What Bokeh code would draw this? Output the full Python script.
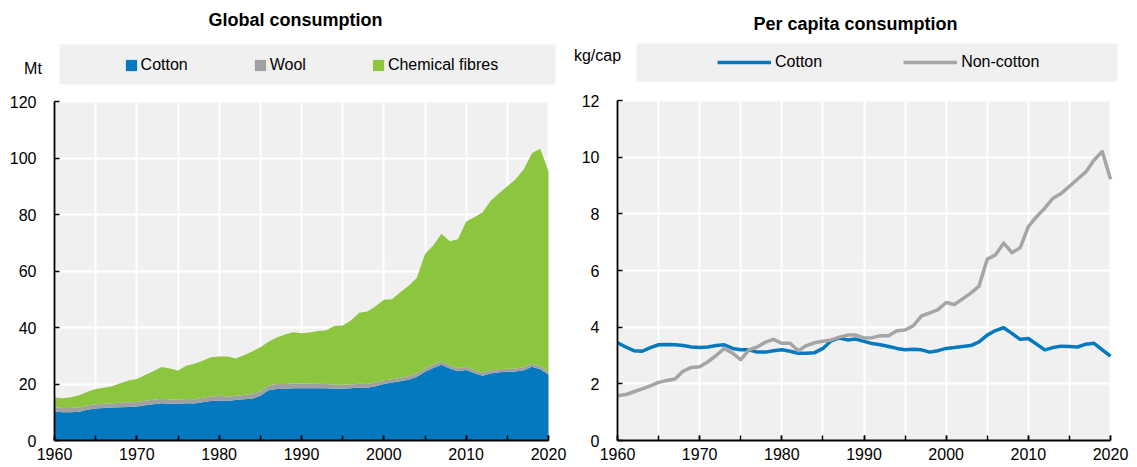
from bokeh.plotting import figure
from bokeh.layouts import row
from bokeh.models import (ColumnDataSource, Legend, LegendItem, Label, BoxAnnotation,
                          FixedTicker, SingleIntervalTicker, Range1d, Grid)
from bokeh.embed import file_html
from bokeh.resources import INLINE

FONT = "Liberation Sans"

years = list(range(1960, 2021))

# Global consumption, Mt (stacked)
cotton_mt = [10.3, 10.0, 10.0, 10.2, 10.9, 11.3, 11.5, 11.7, 11.8, 11.9,
             12.0, 12.5, 12.8, 13.2, 13.0, 13.0, 13.2, 13.1, 13.5, 14.0,
             14.2, 14.0, 14.3, 14.6, 14.8, 15.8, 17.8, 18.2, 18.2, 18.5,
             18.5, 18.5, 18.5, 18.5, 18.3, 18.3, 18.5, 18.8, 18.7, 19.2,
             20.0, 20.5, 21.0, 21.5, 22.5, 24.3, 25.7, 26.8, 25.5, 24.5,
             25.0, 23.8, 22.9, 23.7, 24.2, 24.3, 24.4, 24.9, 26.1, 25.2,
             23.3]
wool_mt = [1.5, 1.5, 1.5, 1.5, 1.5, 1.5, 1.5, 1.5, 1.6, 1.6,
           1.6, 1.6, 1.6, 1.6, 1.5, 1.5, 1.5, 1.5, 1.6, 1.6,
           1.6, 1.6, 1.5, 1.5, 1.6, 1.6, 1.7, 1.8, 1.8, 1.8,
           1.7, 1.6, 1.6, 1.5, 1.4, 1.4, 1.3, 1.3, 1.3, 1.3,
           1.3, 1.2, 1.2, 1.2, 1.2, 1.2, 1.2, 1.2, 1.1, 1.1,
           1.1, 1.1, 1.1, 1.1, 1.1, 1.1, 1.1, 1.1, 1.1, 1.1,
           1.0]
chemical_mt = [3.4, 3.5, 3.8, 4.3, 4.9, 5.4, 5.7, 6.0, 6.9, 7.7,
               8.2, 9.1, 10.1, 11.2, 11.0, 10.3, 11.8, 12.6, 13.1, 13.9,
               13.9, 14.1, 13.2, 14.1, 15.1, 15.6, 15.5, 16.5, 17.5, 18.0,
               17.8, 18.1, 18.7, 19.0, 20.8, 21.0, 22.7, 25.1, 25.7, 27.0,
               28.5, 28.3, 30.3, 32.1, 33.8, 40.5, 42.1, 45.2, 43.9, 45.6,
               51.4, 54.1, 56.8, 60.2, 62.2, 64.6, 67.0, 70.0, 74.6, 77.0,
               70.9]

# Per capita consumption, kg/cap
cotton_pc = [3.45, 3.30, 3.17, 3.15, 3.28, 3.38, 3.39, 3.38, 3.35, 3.30,
             3.28, 3.30, 3.35, 3.38, 3.25, 3.20, 3.20, 3.12, 3.12, 3.17,
             3.20, 3.15, 3.08, 3.08, 3.10, 3.25, 3.52, 3.62, 3.55, 3.58,
             3.50, 3.42, 3.38, 3.32, 3.25, 3.20, 3.22, 3.20, 3.12, 3.17,
             3.25, 3.28, 3.32, 3.35, 3.48, 3.72, 3.88, 3.98, 3.78, 3.57,
             3.60, 3.40, 3.20, 3.28, 3.33, 3.32, 3.30, 3.40, 3.43, 3.20,
             2.98]
noncotton_pc = [1.58, 1.62, 1.72, 1.82, 1.93, 2.05, 2.12, 2.17, 2.45, 2.58,
                2.60, 2.78, 3.00, 3.25, 3.08, 2.85, 3.20, 3.30, 3.47, 3.57,
                3.43, 3.43, 3.17, 3.35, 3.45, 3.50, 3.55, 3.65, 3.72, 3.72,
                3.62, 3.63, 3.70, 3.70, 3.87, 3.90, 4.05, 4.40, 4.50, 4.62,
                4.87, 4.80, 5.00, 5.20, 5.45, 6.40, 6.55, 6.97, 6.63, 6.80,
                7.55, 7.90, 8.20, 8.55, 8.72, 8.97, 9.23, 9.48, 9.90, 10.20,
                9.22]

stack_names = ["Cotton", "Wool", "Chemical fibres"]
line_names = ["Cotton", "Non-cotton"]
left_title = "Global consumption"
right_title = "Per capita consumption"
left_unit = "Mt"
right_unit = "kg/cap"
y_ticks_left = [0, 20, 40, 60, 80, 100, 120]
y_ticks_right = [0, 2, 4, 6, 8, 10, 12]

BLUE = "#0579bf"
GREY_AREA = "#a0a0a0"
GREEN = "#8cc63f"
GREY_LINE = "#a5a5a5"
BG = "#f0f0f0"

# ---- layout (pixels) ----
FB = 465            # frame height = canvas height
AXIS_Y = 440        # pixel row of the x axis (value 0)
X0, X1 = 1960, 2020


def make_fig(width, px_left, px_right, y_top_val, px_top):
    """Frame covers the whole canvas; data area mapped to given pixels."""
    kx = (px_right - px_left) / (X1 - X0)
    xr = Range1d(X0 - px_left / kx, X1 + (width - px_right) / kx)
    ky = (AXIS_Y - px_top) / y_top_val
    yr = Range1d(-(FB - AXIS_Y) / ky, AXIS_Y / ky)
    p = figure(frame_width=width, frame_height=FB, x_range=xr, y_range=yr,
               output_backend="svg", toolbar_location=None,
               min_border_left=0, min_border_right=0, min_border_top=0, min_border_bottom=0)
    p.background_fill_color = "white"
    p.border_fill_color = "white"
    p.outline_line_color = None
    p.grid.visible = False
    # grey plotting area
    p.add_layout(BoxAnnotation(left=X0, right=X1, bottom=0, top=y_top_val,
                               fill_color=BG, fill_alpha=1.0, line_color=None, level="underlay"))
    return p


def style(p, yticks, ytop):
    xa = p.xaxis[0]
    xa.ticker = SingleIntervalTicker(interval=10, num_minor_ticks=2)
    xa.bounds = (X0, X1)
    xa.fixed_location = 0
    ya = p.yaxis[0]
    ya.ticker = FixedTicker(ticks=yticks)
    ya.bounds = (0, ytop)
    ya.fixed_location = X0
    for ax in (xa, ya):
        ax.axis_line_color = "black"
        ax.axis_line_width = 1.8
        ax.major_tick_line_color = "black"
        ax.major_tick_line_width = 1.5
        ax.major_tick_in = 5
        ax.major_tick_out = 0
        ax.minor_tick_line_color = "black"
        ax.minor_tick_line_width = 1.5
        ax.minor_tick_in = 5
        ax.minor_tick_out = 0
        ax.major_label_text_font = FONT
        ax.major_label_text_font_size = "16px"
        ax.major_label_text_color = "black"
    xa.major_label_standoff = 7
    ya.major_label_standoff = 18
    p.add_layout(Grid(dimension=0, ticker=SingleIntervalTicker(interval=5),
                      bounds=(X0, X1), cross_bounds=(0, ytop),
                      grid_line_color="white", grid_line_width=2))
    p.add_layout(Grid(dimension=1, ticker=FixedTicker(ticks=yticks),
                      bounds=(0, ytop), cross_bounds=(X0, X1),
                      grid_line_color="white", grid_line_width=2))


def header(p, title, tx, ty, unit, ux, uy, box):
    l, r, t, b = box
    p.add_layout(BoxAnnotation(left=l, right=r, top=FB - t, bottom=FB - b,
                               left_units="screen", right_units="screen",
                               top_units="screen", bottom_units="screen",
                               fill_color=BG, fill_alpha=1.0, line_color=None))
    p.add_layout(Label(x=tx, y=FB - ty, x_units="screen", y_units="screen", text=title,
                       text_font=FONT, text_font_size="18px", text_font_style="bold",
                       text_align="center", text_baseline="middle", text_color="black"))
    p.add_layout(Label(x=ux, y=FB - uy, x_units="screen", y_units="screen", text=unit,
                       text_font=FONT, text_font_size="16px",
                       text_align="center", text_baseline="middle", text_color="black"))


# ---------- Left: global consumption ----------
src = ColumnDataSource(dict(year=years, cotton=cotton_mt, wool=wool_mt, chemical=chemical_mt))
p1 = make_fig(568, 54, 548, 120, 101)
style(p1, y_ticks_left, 120)
areas = p1.varea_stack(stackers=["cotton", "wool", "chemical"], x="year", source=src,
                       color=[BLUE, GREY_AREA, GREEN])
header(p1, left_title, 295, 19, left_unit, 32.5, 68, (59, 555, 44, 84))
leg1 = Legend(items=[LegendItem(label=n, renderers=[r]) for n, r in zip(stack_names, areas)],
              location=(123.6, FB - 74), orientation="horizontal",
              glyph_width=14, glyph_height=14, label_height=14, label_standoff=3, spacing=65,
              padding=0, margin=0, background_fill_alpha=0, border_line_color=None,
              label_text_font=FONT, label_text_font_size="16px", label_text_color="black")
p1.add_layout(leg1)

# ---------- Right: per capita consumption ----------
p2 = make_fig(567, 49, 542, 12, 100)
style(p2, y_ticks_right, 12)
r_cot = p2.line(years, cotton_pc, line_width=3.5, color=BLUE, line_join="round")
r_non = p2.line(years, noncotton_pc, line_width=3.5, color=GREY_LINE, line_join="round")
header(p2, right_title, 287, 23, right_unit, 29, 55, (68, 549, 43, 81))
leg2 = Legend(items=[LegendItem(label=line_names[0], renderers=[r_cot]),
                     LegendItem(label=line_names[1], renderers=[r_non])],
              location=(149, FB - 72), orientation="horizontal",
              glyph_width=54, glyph_height=20, label_height=20, label_standoff=4, spacing=81,
              padding=0, margin=0, background_fill_alpha=0, border_line_color=None,
              label_text_font=FONT, label_text_font_size="16px", label_text_color="black")
p2.add_layout(leg2)

layout = row(p1, p2)
open("out.html", "w").write(file_html(layout, INLINE))
